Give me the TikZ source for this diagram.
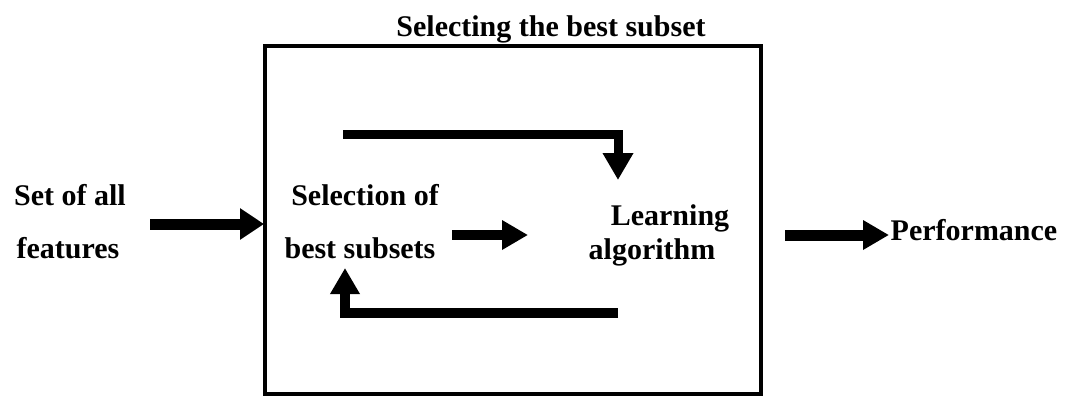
\documentclass[tikz,border=0pt]{standalone}
\usepackage{fontspec}
\setmainfont{Liberation Serif}
\usetikzlibrary{arrows.meta}

\begin{document}
\begin{tikzpicture}[x=1pt,y=-1pt,
    label/.style={inner sep=0pt, anchor=base,
      font=\fontsize{30}{36}\selectfont\bfseries},
    frame/.style={draw=black, line width=4.5pt, line join=miter},
    flow/.style={draw=black, line width=10pt, line join=miter,
      -{Triangle[width=28pt,length=26pt]}}
  ]
  \useasboundingbox (0,0) rectangle (1069,397);

  % outer frame of the selection stage
  \draw[frame] (265,46) coordinate (tl) rectangle (761,394) coordinate (br);

  % labels
  \node[label] (title) at (551,36) {Selecting the best subset};
  \node[label] (inA) at (70,205) {Set of all};
  \node[label] (inB) at (68,258) {features};
  \node[label] (selA) at (365,205) {Selection of};
  \node[label] (selB) at (360,258) {best subsets};
  \node[label] (learnA) at (670,225) {Learning};
  \node[label] (learnB) at (652,259) {algorithm};
  \node[label] (perf) at (974,240) {Performance};

  % connector end points
  \coordinate (inS) at (150,224);
  \coordinate (inE) at (264,224);
  \coordinate (midS) at (452,235);
  \coordinate (midE) at (528,235);
  \coordinate (outS) at (785,235);
  \coordinate (outE) at (889,235);
  \coordinate (topS) at (343,134.5);
  \coordinate (topC) at (618,134.5);
  \coordinate (topE) at (618,180);
  \coordinate (botS) at (618,313);
  \coordinate (botC) at (345,313);
  \coordinate (botE) at (345,268);

  % arrows
  \draw[flow, line width=11pt, -{Triangle[width=30pt,length=24pt]}] (inS) -- (inE);
  \draw[flow] (midS) -- (midE);
  \draw[flow, line width=11pt] (outS) -- (outE);
  \draw[flow, line width=9pt, -{Triangle[width=29pt,length=27pt]}] (topS) -- (topC) -- (topE);
  \draw[flow, line width=9.5pt] (botS) -- (botC) -- (botE);
\end{tikzpicture}
\end{document}
